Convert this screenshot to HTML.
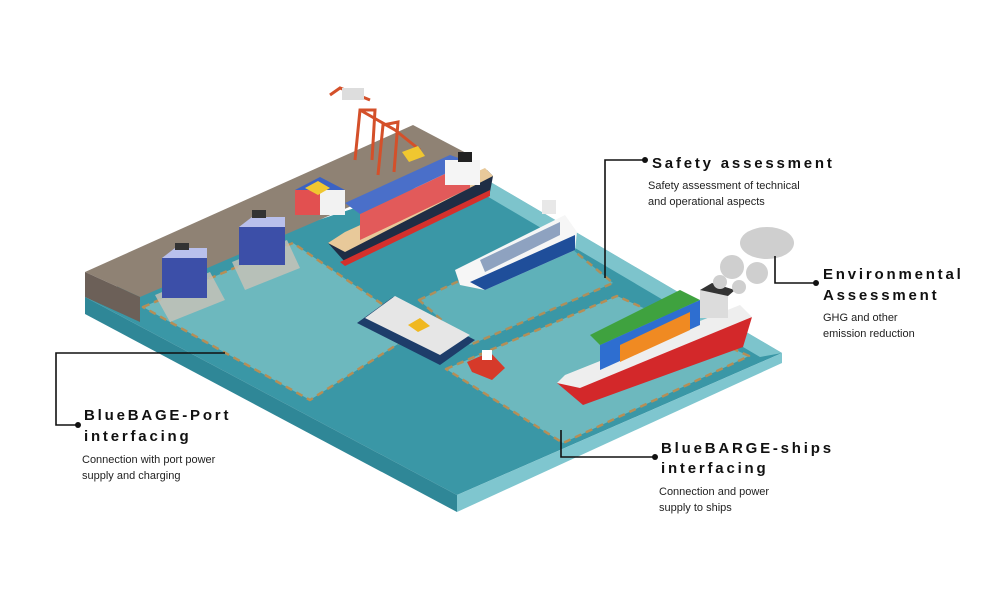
<!DOCTYPE html>
<html><head><meta charset="utf-8"><style>
html,body{margin:0;padding:0;background:#fff;}
svg{display:block}
.t{font-family:"Liberation Sans",sans-serif;font-weight:bold;font-size:15px;letter-spacing:2.8px;fill:#111}
.s{font-family:"Liberation Sans",sans-serif;font-size:11px;fill:#222}
</style></head><body>
<svg width="1000" height="600" viewBox="0 0 1000 600" xmlns="http://www.w3.org/2000/svg">
<polygon points="85,297 470,170 782,353 457,495" fill="#3a97a6"/>
<polygon points="85,297 457,495 457,512 85,314" fill="#2f8797"/>
<polygon points="457,495 782,353 782,363 457,512" fill="#7fc6cf"/>
<polygon points="470,170 782,353 760,357 480,192" fill="#8fd0d6" opacity="0.8"/>
<polygon points="143,307 293,243 420,330 310,400" fill="#7ec3c6" opacity="0.75" stroke="#e08c3c" stroke-width="2.5" stroke-dasharray="7,5" stroke-linejoin="round"/>
<polygon points="419,300 555,235 613,283 470,345" fill="#6fbcc2" opacity="0.7" stroke="#e08c3c" stroke-width="2.5" stroke-dasharray="7,5" stroke-linejoin="round"/>
<polygon points="446,369 617,296 749,356 563,443" fill="#7ec3c6" opacity="0.75" stroke="#e08c3c" stroke-width="2.5" stroke-dasharray="7,5" stroke-linejoin="round"/>
<polygon points="85,272 413,125 470,155 140,297" fill="#8f8274"/>
<polygon points="85,272 140,297 140,322 85,297" fill="#6c6058"/>
<polygon points="155,295 210,272 225,300 170,322" fill="#c9c2b6" opacity="0.8"/>
<rect x="162" y="258" width="45" height="40" fill="#3c4fa8"/>
<polygon points="162,258 175,248 207,248 207,258" fill="#b9c0ec"/>
<rect x="175" y="243" width="14" height="7" fill="#333"/>
<polygon points="232,262 287,240 300,268 245,290" fill="#c9c2b6" opacity="0.8"/>
<rect x="239" y="227" width="46" height="38" fill="#3c4fa8"/>
<polygon points="239,227 252,217 285,217 285,227" fill="#b9c0ec"/>
<rect x="252" y="210" width="14" height="8" fill="#333"/>
<g stroke="#d4502a" stroke-width="3" fill="none">
<path d="M355,160 L360,110 L375,110 L372,160"/>
<path d="M378,175 L383,125 L398,122 L394,172"/>
<path d="M360,110 L395,130 L420,150"/>
<path d="M330,95 L340,88 L370,100"/>
</g>
<rect x="342" y="88" width="22" height="12" fill="#ddd"/>
<polygon points="402,152 418,146 425,156 409,162" fill="#f0c730"/>
<polygon points="295,190 320,177 345,190 320,203" fill="#3b62c4"/>
<rect x="295" y="190" width="25" height="25" fill="#e25050"/>
<rect x="320" y="190" width="25" height="25" fill="#f2f2f2"/>
<polygon points="305,188 318,181 330,188 318,195" fill="#f0c730"/>
<polygon points="328,243 487,170 493,176 490,192 345,262" fill="#1f2d45"/>
<polygon points="340,262 490,190 490,196 345,266" fill="#d4302c"/>
<polygon points="328,243 345,232 485,168 493,176 345,252" fill="#e8c99a"/>
<polygon points="360,240 470,188 470,162 360,214" fill="#e25a5a"/>
<polygon points="360,214 470,162 450,155 345,203" fill="#4a6fc9"/>
<rect x="445" y="160" width="35" height="25" fill="#f5f5f5"/>
<rect x="458" y="152" width="14" height="10" fill="#222"/>
<polygon points="455,270 565,215 577,232 575,250 485,290 460,285" fill="#f6f6f6"/>
<polygon points="470,282 575,235 575,250 485,290" fill="#1f4e9a"/>
<polygon points="480,260 560,222 560,235 485,272" fill="#4a6b9c" opacity="0.6"/>
<rect x="542" y="200" width="14" height="14" fill="#e8e8e8"/>
<polygon points="357,323 393,297 475,340 440,365" fill="#1e3d6a"/>
<polygon points="365,318 395,296 470,335 440,355" fill="#e6e6e6"/>
<polygon points="408,325 420,318 430,326 418,332" fill="#f0b820"/>
<polygon points="467,362 490,352 505,368 492,380 472,372" fill="#d63a2a"/>
<rect x="482" y="350" width="10" height="10" fill="#fff"/>
<polygon points="557,383 752,317 743,347 583,405" fill="#d3282a"/>
<polygon points="557,383 565,375 740,305 752,317 580,388" fill="#eeeeee"/>
<polygon points="600,370 700,325 700,300 600,345" fill="#2e6ed0"/>
<polygon points="600,345 700,300 680,290 590,335" fill="#3fa23f"/>
<polygon points="620,362 690,330 690,312 620,345" fill="#f08a22"/>
<rect x="700" y="290" width="28" height="28" fill="#dcdcdc"/>
<polygon points="700,290 712,283 735,290 728,296" fill="#333"/>
<g fill="#cfcfcf">
<ellipse cx="767" cy="243" rx="27" ry="16"/>
<circle cx="732" cy="267" r="12"/>
<circle cx="757" cy="273" r="11"/>
<circle cx="720" cy="282" r="7"/>
<circle cx="739" cy="287" r="7"/>
</g>
<g stroke="#111" stroke-width="1.6" fill="none">
<path d="M645,160 H605 V278"/>
<path d="M775,256 V283 H816"/>
<path d="M561,430 V457 H655"/>
<path d="M225,353 H56 V425 H78"/>
</g>
<g fill="#111">
<circle cx="645" cy="160" r="3"/>
<circle cx="816" cy="283" r="3"/>
<circle cx="655" cy="457" r="3"/>
<circle cx="78" cy="425" r="3"/>
</g>
<text class="t" x="652" y="168">Safety assessment</text>
<text class="s" x="648" y="189">Safety assessment of technical</text>
<text class="s" x="648" y="205">and operational aspects</text>
<text class="t" x="823" y="279">Environmental</text>
<text class="t" x="823" y="300">Assessment</text>
<text class="s" x="823" y="321">GHG and other</text>
<text class="s" x="823" y="337">emission reduction</text>
<text class="t" x="661" y="453">BlueBARGE-ships</text>
<text class="t" x="661" y="473">interfacing</text>
<text class="s" x="659" y="495">Connection and power</text>
<text class="s" x="659" y="511">supply to ships</text>
<text class="t" x="84" y="420">BlueBAGE-Port</text>
<text class="t" x="84" y="441">interfacing</text>
<text class="s" x="82" y="463">Connection with port power</text>
<text class="s" x="82" y="479">supply and charging</text>
</svg>
</body></html>
